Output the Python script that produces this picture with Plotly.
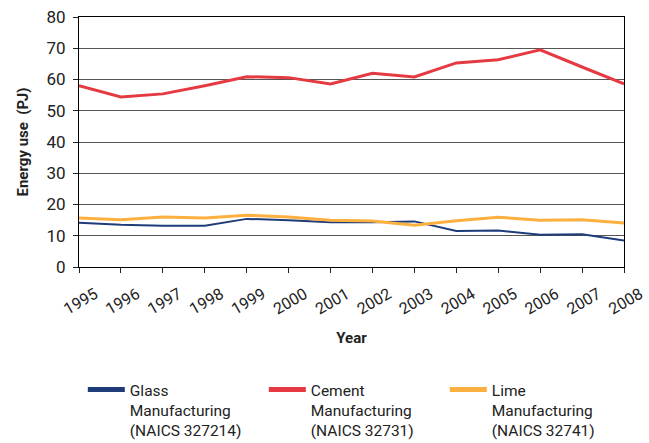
import plotly.graph_objects as go

years = [str(y) for y in range(1995, 2009)]
glass = [14.2, 13.5, 13.2, 13.2, 15.4, 15.0, 14.3, 14.3, 14.6, 11.5, 11.7, 10.3, 10.5, 8.5]
cement = [58.0, 54.4, 55.4, 58.0, 60.9, 60.6, 58.6, 62.0, 60.8, 65.3, 66.3, 69.5, 64.0, 58.6]
lime = [15.7, 15.1, 16.0, 15.7, 16.6, 16.0, 15.0, 14.7, 13.4, 14.8, 15.9, 15.0, 15.1, 14.1]

names = [
    "Glass<br>Manufacturing<br>(NAICS 327214)",
    "Cement<br>Manufacturing<br>(NAICS 32731)",
    "Lime<br>Manufacturing<br>(NAICS 32741)",
]
colors = ["#1F3C7A", "#E63A42", "#FBB040"]
widths = [2, 3, 3]
series = [glass, cement, lime]

FONT = "Roboto, sans-serif"

fig = go.Figure()
for name, vals, col, w in zip(names, series, colors, widths):
    fig.add_trace(go.Scatter(x=years, y=vals, mode="lines", name=name,
                             line=dict(color=col, width=w), showlegend=False))
    # legend swatch with a thicker stroke
    fig.add_trace(go.Scatter(x=[None], y=[None], mode="lines", name=name,
                             line=dict(color=col, width=5)))

fig.update_layout(
    width=649, height=443,
    margin=dict(l=79, r=25, t=17, b=176, autoexpand=False),
    paper_bgcolor="white", plot_bgcolor="white",
    font=dict(family=FONT, size=16, color="#222"),
    legend=dict(orientation="h", x=0.007, xanchor="left", y=-0.72, yanchor="bottom",
                itemwidth=37, entrywidth=129, entrywidthmode="pixels", valign="top",
                font=dict(size=15.5, family=FONT), tracegroupgap=0),
    xaxis=dict(
        type="category", range=[0, 13],
        tickangle=-30, tickfont=dict(size=16),
        ticklabelshift=16, ticklabelstandoff=6,
        ticks="outside", ticklen=5, tickcolor="#222",
        showline=True, linecolor="black", linewidth=1, mirror=True,
        showgrid=False,
        title=dict(text="<b>Year</b>", font=dict(size=15), standoff=14),
    ),
    yaxis=dict(
        range=[0, 80], dtick=10,
        ticks="outside", ticklen=5, tickcolor="#222",
        tickfont=dict(size=17), ticklabelstandoff=4,
        showline=True, linecolor="black", linewidth=1, mirror=True,
        showgrid=True, gridcolor="#555", gridwidth=1,
        zeroline=False,
        title=dict(text="<b>Energy use  (PJ)</b>", font=dict(size=15), standoff=14),
    ),
)

fig.write_html("out.html")
